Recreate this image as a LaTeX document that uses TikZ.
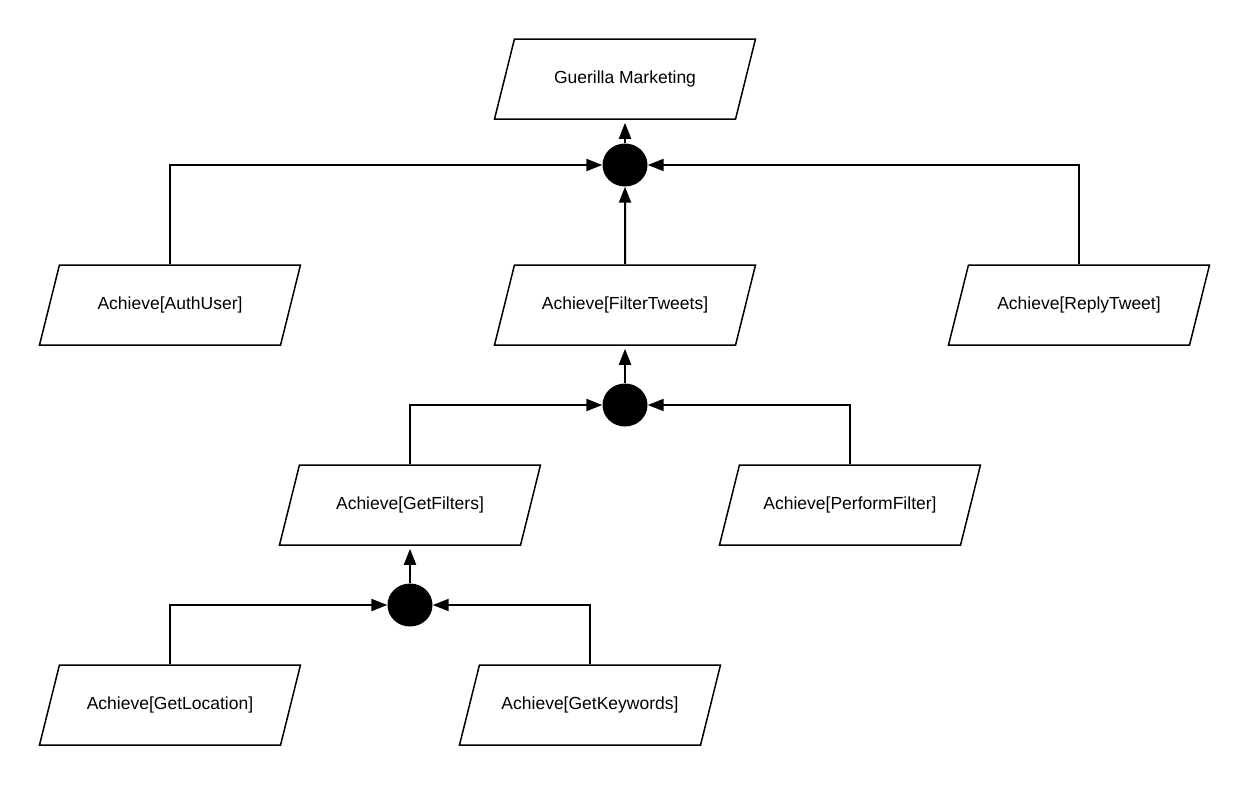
\documentclass[tikz,border=0pt]{standalone}
\usepackage{fontspec}
\setmainfont{Liberation Sans}
\usetikzlibrary{shapes.geometric,arrows.meta}
\begin{document}
\begin{tikzpicture}[x=1pt,y=-1pt,
  goalbox/.style={draw,line width=1.5pt,trapezium,trapezium left angle=76,trapezium right angle=104,
    trapezium stretches body=true,minimum width=261pt,text height=13pt,text depth=4pt,
    inner xsep=0pt,inner ysep=31.5pt,font=\fontsize{17.5}{21}\selectfont},
  andnode/.style={ellipse,fill=black,minimum width=45pt,minimum height=43pt,inner sep=0pt},
  link/.style={line width=2pt,-{Triangle[length=16pt,width=12pt]}}]

\useasboundingbox (0,0) rectangle (1249,785);

\node[goalbox] (goal) at (625,79) {Guerilla Marketing};
\node[andnode] (and1) at (625,165) {};

\node[goalbox] (auth) at (170,305) {Achieve[AuthUser]};
\node[goalbox] (filt) at (625,305) {Achieve[FilterTweets]};
\node[goalbox] (reply) at (1079,305) {Achieve[ReplyTweet]};
\node[andnode] (and2) at (625,405) {};

\node[goalbox] (getf) at (410,505) {Achieve[GetFilters]};
\node[goalbox] (perf) at (850,505) {Achieve[PerformFilter]};
\node[andnode] (and3) at (410,605) {};

\node[goalbox] (loc) at (170,705) {Achieve[GetLocation]};
\node[goalbox] (kw) at (590,705) {Achieve[GetKeywords]};

\draw[link,shorten >=3pt] (and1) -- (goal);
\draw[link] (auth.north) |- (and1);
\draw[link] (filt) -- (and1);
\draw[link] (reply.north) |- (and1);

\draw[link,shorten >=3pt] (and2) -- (filt);
\draw[link] (getf.north) |- (and2);
\draw[link] (perf.north) |- (and2);

\draw[link,shorten >=3pt] (and3) -- (getf);
\draw[link] (loc.north) |- (and3);
\draw[link] (kw.north) |- (and3);

\end{tikzpicture}
\end{document}
